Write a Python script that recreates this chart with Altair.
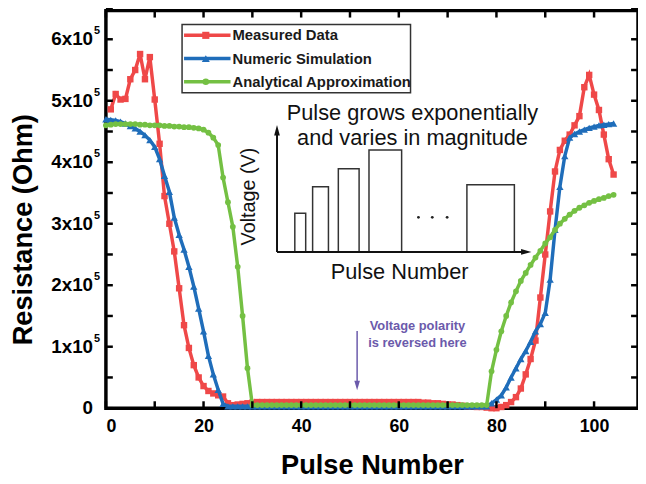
import altair as alt
import pandas as pd

# ---------------- data (resistance in units of 1e5 Ohm) ----------------
pulse_measured = list(range(1, 105))
measured = [
    4.86, 5.11, 5.02, 5.03, 5.35, 5.50, 5.76, 5.35, 5.71, 5.02,
    4.30, 3.45, 3.00, 2.55, 1.95, 1.35, 0.98, 0.70, 0.50, 0.36,
    0.28, 0.24, 0.21, 0.19, 0.08, 0.05, 0.06, 0.07, 0.08, 0.09,
    0.10, 0.10, 0.10, 0.10, 0.10, 0.10, 0.10, 0.10, 0.10, 0.10,
    0.10, 0.10, 0.10, 0.10, 0.10, 0.10, 0.10, 0.10, 0.10, 0.10,
    0.10, 0.10, 0.10, 0.10, 0.10, 0.10, 0.10, 0.10, 0.10, 0.10,
    0.10, 0.10, 0.10, 0.10, 0.09, 0.09, 0.08, 0.08, 0.07, 0.06,
    0.06, 0.05, 0.04, 0.03, 0.03, 0.02, 0.02, 0.01, 0.00, 0.00,
    0.02, 0.05, 0.10, 0.18, 0.32, 0.55, 0.80, 1.10, 1.80, 2.50,
    3.20, 3.85, 4.20, 4.35, 4.45, 4.60, 4.75, 5.22, 5.42, 5.10,
    4.85, 4.45, 4.05, 3.80,
]

pulse_model = list(range(0, 105))
numeric = [
    4.70, 4.69, 4.68, 4.66, 4.63, 4.59, 4.55, 4.50, 4.44, 4.36,
    4.25, 4.05, 3.78, 3.52, 3.10, 2.82, 2.58, 2.30, 1.98, 1.62,
    1.25, 0.85, 0.55, 0.30, 0.07, 0.03, 0.03, 0.03, 0.03, 0.03,
    0.03, 0.03, 0.03, 0.03, 0.03, 0.03, 0.03, 0.03, 0.03, 0.03,
    0.03, 0.03, 0.03, 0.03, 0.03, 0.03, 0.03, 0.03, 0.03, 0.03,
    0.03, 0.03, 0.03, 0.03, 0.03, 0.03, 0.03, 0.03, 0.03, 0.03,
    0.03, 0.03, 0.03, 0.03, 0.03, 0.03, 0.03, 0.03, 0.03, 0.03,
    0.03, 0.03, 0.03, 0.03, 0.03, 0.03, 0.03, 0.03, 0.03, 0.08,
    0.14, 0.21, 0.34, 0.50, 0.65, 0.80, 0.93, 1.08, 1.25, 1.37,
    1.55, 2.09, 2.90, 3.60, 4.10, 4.40, 4.46, 4.50, 4.53, 4.56,
    4.58, 4.60, 4.61, 4.62, 4.63,
]
analytical = [
    4.60, 4.61, 4.62, 4.62, 4.62, 4.62, 4.62, 4.61, 4.61, 4.60,
    4.60, 4.60, 4.59, 4.59, 4.58, 4.58, 4.57, 4.57, 4.56, 4.55,
    4.53, 4.48, 4.40, 4.28, 3.75, 3.35, 2.95, 2.30, 1.50, 0.65,
    0.05, 0.05, 0.05, 0.05, 0.05, 0.05, 0.05, 0.05, 0.05, 0.05,
    0.05, 0.05, 0.05, 0.05, 0.05, 0.05, 0.05, 0.05, 0.05, 0.05,
    0.05, 0.05, 0.05, 0.05, 0.05, 0.05, 0.05, 0.05, 0.05, 0.05,
    0.05, 0.05, 0.05, 0.05, 0.05, 0.05, 0.05, 0.05, 0.05, 0.05,
    0.05, 0.05, 0.05, 0.05, 0.05, 0.05, 0.05, 0.05, 0.05, 0.60,
    0.95, 1.25, 1.50, 1.72, 1.90, 2.07, 2.20, 2.33, 2.45, 2.56,
    2.68, 2.78, 2.90, 3.00, 3.08, 3.15, 3.21, 3.26, 3.30, 3.34,
    3.37, 3.40, 3.42, 3.45, 3.47,
]

series_names = ["Measured Data", "Numeric Simulation", "Analytical Approximation"]

y_tick_values = [0, 1, 2, 3, 4, 5, 6]
y_tick_text = ["0", "1x10", "2x10", "3x10", "4x10", "5x10", "6x10"]
y_tick_sup = ["", "5", "5", "5", "5", "5", "5"]
y_minor_values = [0, 0.5, 1, 1.5, 2, 2.5, 3, 3.5, 4, 4.5, 5, 5.5, 6, 6.5]
x_tick_values = [0, 20, 40, 60, 80, 100]
x_minor_values = [0, 10, 20, 30, 40, 50, 60, 70, 80, 90, 100]

# ---------------- styling ----------------
FONT = "Liberation Sans"
COLORS = ["#ef4848", "#1f6dba", "#74c043"]
SHAPES = ["square", "triangle-up", "circle"]
SIZES = [42, 55, 34]
PURPLE = "#6b5aab"
W, H = 538, 402

xs = alt.Scale(domain=[0, 109], nice=False, zero=False)
ys = alt.Scale(domain=[0, 6.466], nice=False, zero=False)

x_axis = alt.Axis(values=x_tick_values, title="Pulse Number", labelFont=FONT,
                  labelFontSize=18, labelFontWeight="bold", labelColor="black",
                  labelPadding=10, ticks=False, tickSize=0, domain=False, grid=False,
                  titleFont=FONT, titleFontSize=27.5, titleFontWeight="bold",
                  titleColor="black", titleY=66, titleBaseline="alphabetic")
y_axis = alt.Axis(values=y_tick_values, labels=False, ticks=False, tickSize=0,
                  domain=False, grid=False, title="Resistance (Ohm)",
                  titleFont=FONT, titleFontSize=27.5, titleFontWeight="bold",
                  titleColor="black", titleX=-75, titleY=221, titleAngle=270,
                  titleBaseline="alphabetic", titleAlign="center")

X = alt.X("x:Q", scale=xs, axis=x_axis)
Y = alt.Y("y:Q", scale=ys, axis=y_axis)

layers = []

# data series
series_data = [
    (pulse_measured, measured),
    (pulse_model, numeric),
    (pulse_model, analytical),
]
for (xv, yv), c, s, sz in zip(series_data, COLORS, SHAPES, SIZES):
    df = pd.DataFrame({"x": xv, "y": yv})
    base = alt.Chart(df)
    layers.append(base.mark_line(color=c, strokeWidth=3.5).encode(x=X, y=Y))
    layers.append(base.mark_point(shape=s, filled=True, color=c, size=sz,
                                  opacity=1).encode(x=X, y=Y))

# inward ticks on all four sides
ydf = pd.DataFrame({"y": y_minor_values})
xdf = pd.DataFrame({"x": x_minor_values})
layers.append(alt.Chart(ydf).mark_rule(color="black", strokeWidth=2.5).encode(
    y=Y, x=alt.value(0), x2=alt.value(7)))
layers.append(alt.Chart(ydf).mark_rule(color="black", strokeWidth=2.5).encode(
    y=Y, x=alt.value(W - 7), x2=alt.value(W)))
layers.append(alt.Chart(xdf).mark_rule(color="black", strokeWidth=2.5).encode(
    x=X, y=alt.value(H - 7), y2=alt.value(H)))
layers.append(alt.Chart(xdf).mark_rule(color="black", strokeWidth=2.5).encode(
    x=X, y=alt.value(0), y2=alt.value(7)))

# y tick labels  "n x 10^5"
ylab = pd.DataFrame({"y": y_tick_values, "t": y_tick_text, "s": y_tick_sup})
layers.append(alt.Chart(ylab).mark_text(align="right", baseline="middle", font=FONT,
                                        fontSize=19, fontWeight="bold", color="black"
                                        ).encode(y=Y, x=alt.value(-13), text="t:N"))
layers.append(alt.Chart(ylab).mark_text(align="left", baseline="middle", font=FONT,
                                        fontSize=11, fontWeight="bold", color="black",
                                        dy=-8).encode(y=Y, x=alt.value(-12), text="s:N"))

one = pd.DataFrame({"k": [0]})

def txt(text, x, y, size, weight="normal", color="#111111", angle=0, align="center"):
    return alt.Chart(pd.DataFrame({"t": [text]})).mark_text(
        font=FONT, fontSize=size, fontWeight=weight, color=color, angle=angle,
        align=align, baseline="middle").encode(x=alt.value(x), y=alt.value(y), text="t:N")

def rect(x1, x2, y1, y2, sw=1.5):
    return alt.Chart(one).mark_rect(fill="white", stroke="#333333", strokeWidth=sw).encode(
        x=alt.value(x1), x2=alt.value(x2), y=alt.value(y1), y2=alt.value(y2))

def hline(x1, x2, y, color="#111111", sw=2):
    return alt.Chart(one).mark_rule(color=color, strokeWidth=sw).encode(
        x=alt.value(x1), x2=alt.value(x2), y=alt.value(y))

def vline(x, y1, y2, color="#111111", sw=2):
    return alt.Chart(one).mark_rule(color=color, strokeWidth=sw).encode(
        x=alt.value(x), y=alt.value(y1), y2=alt.value(y2))

def head(x, y, path, color="#111111", size=120):
    return alt.Chart(one).mark_point(shape=path, filled=True, color=color, size=size,
                                     opacity=1, strokeWidth=0).encode(
        x=alt.value(x), y=alt.value(y))

# legend
layers.append(rect(77, 308, 14, 83, sw=1.5))
for i, (name, c, s, sz) in enumerate(zip(series_names, COLORS, SHAPES, SIZES)):
    ry = 25 + i * 23.5
    layers.append(hline(79, 126, ry, color=c, sw=3.5))
    layers.append(alt.Chart(one).mark_point(shape=s, filled=True, color=c, size=sz + 10,
                                            opacity=1).encode(x=alt.value(101), y=alt.value(ry)))
    layers.append(txt(name, 128, ry, 15, weight="bold", color="#1a1a1a", align="left"))

# inset schematic
layers.append(txt("Pulse grows exponentially", 310, 104, 22))
layers.append(txt("and varies in magnitude", 310, 129, 22))
for (a, b, top) in [(191, 202, 205), (209, 225, 178), (235, 256, 160), (266, 299, 141), (365, 413, 176)]:
    layers.append(rect(a, b, top, 244, sw=1.5))
layers.append(vline(173, 244, 124))
layers.append(hline(173, 422, 244))
layers.append(head(173, 121, "M0,-1L0.55,1L-0.55,1Z", size=110))
layers.append(head(425, 244, "M1,0L-1,0.55L-1,-0.55Z", size=110))
for dx in [316, 330, 345]:
    layers.append(alt.Chart(one).mark_point(shape="circle", filled=True, color="#222222",
                                            size=8, opacity=1).encode(
        x=alt.value(dx), y=alt.value(209)))
layers.append(txt("Voltage (V)", 145, 188, 20, angle=270))
layers.append(txt("Pulse Number", 297, 264, 22))

# polarity annotation
layers.append(txt("Voltage polarity", 315, 319, 13, weight="bold", color=PURPLE))
layers.append(txt("is reversed here", 315, 336, 13, weight="bold", color=PURPLE))
layers.append(vline(254, 324, 376, color=PURPLE, sw=1.5))
layers.append(head(254, 379, "M0,1L0.6,-1L-0.6,-1Z", color=PURPLE, size=90))

chart = alt.layer(*layers).properties(
    width=W, height=H,
    autosize=alt.AutoSizeParams(type="none"),
    padding={"left": 99, "top": 0, "right": 0, "bottom": 74},
    background="white",
).configure_view(stroke="black", strokeWidth=3.5)

chart.save("out.html", embed_options={"renderer": "svg", "actions": False})
